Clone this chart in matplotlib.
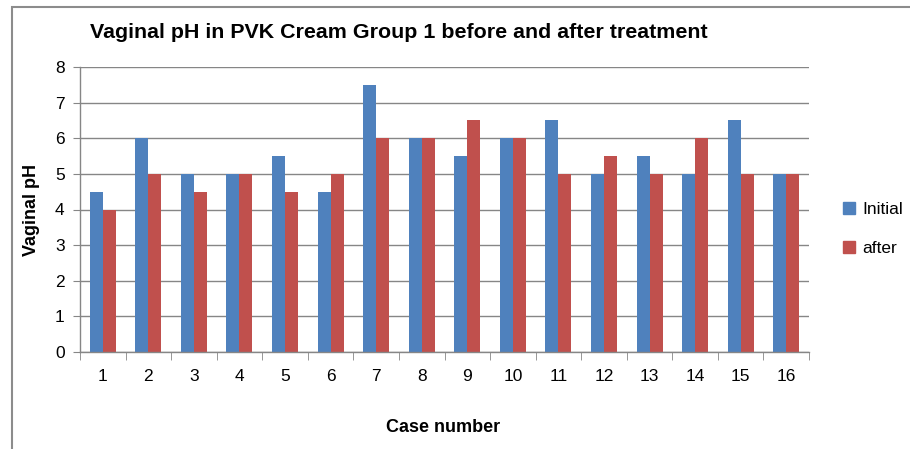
import matplotlib
matplotlib.use("Agg")
import matplotlib.pyplot as plt
from matplotlib.patches import Rectangle, Patch
import numpy as np

cases = [str(i) for i in range(1, 17)]
initial = [4.5, 6, 5, 5, 5.5, 4.5, 7.5, 6, 5.5, 6, 6.5, 5, 5.5, 5, 6.5, 5]
after = [4, 5, 4.5, 5, 4.5, 5, 6, 6, 6.5, 6, 5, 5.5, 5, 6, 5, 5]
yticks = [0, 1, 2, 3, 4, 5, 6, 7, 8]

blue = "#4F81BD"
red = "#C0504D"
grid = "#868686"

plt.rcParams["font.family"] = ["Liberation Sans", "DejaVu Sans"]

fig = plt.figure(figsize=(9.10, 4.49), dpi=100)
fig.patch.set_facecolor("white")

# outer chart frame
fig.patches.append(Rectangle((12 / 910, -0.5), 2.0, 1.5 - 7 / 449,
                             transform=fig.transFigure, fill=False,
                             edgecolor="#8C8C8C", linewidth=1.5))

ax = fig.add_axes([80 / 910, 1 - 352 / 449, (809 - 80) / 910, (352 - 67) / 449])

x = np.arange(len(cases))
w = 0.285
ax.bar(x - w / 2, initial, width=w, color=blue, label="Initial", zorder=3)
ax.bar(x + w / 2, after, width=w, color=red, label="after", zorder=3)

ax.set_xlim(-0.5, len(cases) - 0.5)
ax.set_ylim(0, 8)
ax.set_yticks(yticks)
ax.set_yticklabels([str(t) for t in yticks], fontsize=12.5)
ax.set_xticks(x)
ax.set_xticklabels(cases, fontsize=12.5)
ax.tick_params(axis="x", which="major", length=0, pad=12)
ax.set_xticks(np.arange(-0.5, len(cases)), minor=True)
ax.tick_params(axis="x", which="minor", length=6, color=grid, direction="out")
ax.tick_params(axis="y", length=5, color=grid, direction="out", pad=6)

ax.grid(axis="y", color=grid, linewidth=1, zorder=0)
for s in ["top", "right"]:
    ax.spines[s].set_visible(False)
for s in ["left", "bottom"]:
    ax.spines[s].set_color(grid)
    ax.spines[s].set_linewidth(1)
    ax.spines[s].set_zorder(4)

fig.text(90 / 910, 1 - 32 / 449, "Vaginal pH in PVK Cream Group 1 before and after treatment",
         fontsize=15.4, fontweight="bold", ha="left", va="center")
fig.text(32 / 910, 1 - 210 / 449, "Vaginal pH", fontsize=13, fontweight="bold",
         rotation=90, ha="center", va="center")
fig.text(443 / 910, 1 - 427 / 449, "Case number", fontsize=13, fontweight="bold",
         ha="center", va="center")

handles = [Patch(color=blue, label="Initial"), Patch(color=red, label="after")]
fig.legend(handles=handles, loc="center left", bbox_to_anchor=(836 / 910, 1 - 229 / 449),
           frameon=False, fontsize=12.5, handlelength=0.7, handleheight=0.7,
           handletextpad=0.4, labelspacing=1.4, borderaxespad=0)

fig.savefig("out.png", dpi=100, facecolor="white")
